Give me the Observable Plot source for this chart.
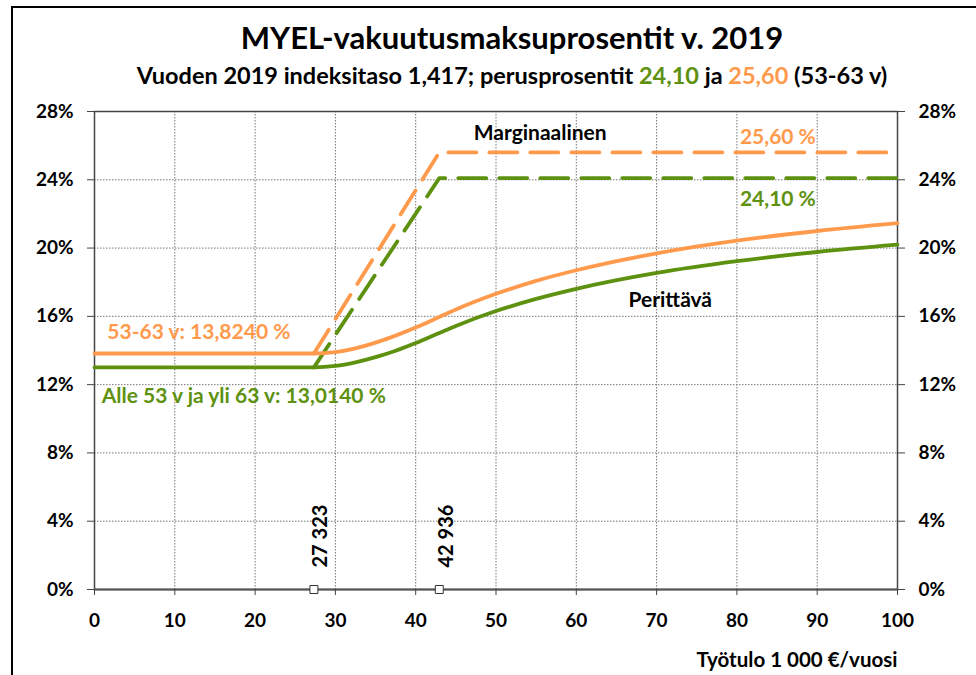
<!DOCTYPE html>
<html>
<head>
<meta charset="utf-8">
<script src="https://cdn.jsdelivr.net/npm/d3@7"></script>
<script src="https://cdn.jsdelivr.net/npm/@observablehq/plot@0.6"></script>
<style>
  html, body { margin: 0; padding: 0; background: #fff; overflow: hidden; }
  body { width: 976px; height: 675px; position: relative; font-family: Lato, "Open Sans", sans-serif; }
  #frame { position: absolute; left: 11px; top: 6px; width: 1000px; height: 700px; border-left: 2px solid #000; border-top: 2px solid #000; pointer-events: none; }
  #header { position: relative; height: 100px; }
  #title { position: absolute; left: 0; width: 1024px; top: 19px; text-align: center; font-weight: 700; font-size: 31px; line-height: 37px; color: #000; }
  #subtitle { position: absolute; left: 0; width: 1024px; top: 61px; text-align: center; font-weight: 700; font-size: 23.5px; line-height: 28px; color: #000; }
  .g { color: #5e9110; }
  .o { color: #ff9a4d; }
  #chart svg { display: block; }
</style>
</head>
<body>
<div id="frame"></div>
<div id="header">
  <div id="title">MYEL-vakuutusmaksuprosentit v. 2019</div>
  <div id="subtitle">Vuoden 2019 indeksitaso 1,417; perusprosentit <span class="g">24,10</span> ja <span class="o">25,60</span> (53-63 v)</div>
</div>
<div id="chart"></div>
<script>
// Income, 1 000 €/year
const incomeX = [0, 27.323, 30, 32.5, 35, 37.5, 40, 42.936, 45, 50, 55, 60, 70, 80, 90, 100];
// Effective (perittävä) rate, %
const orangeEffective = [13.824, 13.824, 13.91, 14.13, 14.46, 14.87, 15.34, 15.96, 16.40, 17.32, 18.08, 18.70, 19.69, 20.43, 21.00, 21.46];
const greenEffective  = [13.014, 13.014, 13.10, 13.31, 13.61, 13.99, 14.44, 15.03, 15.44, 16.31, 17.02, 17.61, 18.54, 19.23, 19.77, 20.20];
// Marginal rate, %
const marginalX = [27.323, 42.936, 100];
const orangeMarginal = [13.824, 25.60, 25.60];
const greenMarginal  = [13.014, 24.10, 24.10];
// Income limits
const limits = [27.323, 42.936];
const limitLabels = ["27 323", "42 936"];
const xTicks = [0, 10, 20, 30, 40, 50, 60, 70, 80, 90, 100];
const yTicks = [0, 4, 8, 12, 16, 20, 24, 28];

const ORANGE = "#ff9a4d";
const GREEN = "#5e9110";

const eff = (ys) => incomeX.map((x, i) => ({x, y: ys[i]}));
const marg = (ys) => marginalX.map((x, i) => ({x, y: ys[i]}));
const limitData = limits.map((x, i) => ({x, label: limitLabels[i]}));

const leftLabels = [
  {x: 1.6, y: 15.05, text: "53-63 v: 13,8240 %", color: ORANGE},
  {x: 0.9, y: 11.3, text: "Alle 53 v ja yli 63 v: 13,0140 %", color: GREEN}
];
const centerLabels = [
  {x: 55.5, y: 26.7, text: "Marginaalinen", color: "#000"},
  {x: 85.1, y: 26.5, text: "25,60 %", color: ORANGE},
  {x: 85.1, y: 22.85, text: "24,10 %", color: GREEN},
  {x: 71.7, y: 16.93, text: "Perittävä", color: "#000"}
];

const chart = Plot.plot({
  width: 976,
  height: 575,
  marginLeft: 94,
  marginRight: 79,
  marginTop: 11,
  marginBottom: 86,
  style: {fontFamily: "Lato, 'Open Sans', sans-serif", fontSize: "18px", fontWeight: 700, color: "#000", background: "#fff"},
  x: {domain: [0, 100]},
  y: {domain: [0, 28]},
  marks: [
    Plot.gridX(xTicks, {stroke: "#777", strokeOpacity: 1, strokeDasharray: "1.5,1.5", strokeWidth: 1}),
    Plot.gridY(yTicks, {stroke: "#777", strokeOpacity: 1, strokeDasharray: "1.5,1.5", strokeWidth: 1}),
    Plot.frame({stroke: "#444", strokeWidth: 1.5}),
    Plot.ruleY([0], {stroke: "#555", strokeWidth: 2}),
    Plot.axisY(yTicks, {anchor: "left", tickFormat: d => d + "%", tickSize: 7, tickPadding: 14, fontSize: 19, fontWeight: 700, stroke: "#444", label: null}),
    Plot.axisY(yTicks, {anchor: "right", tickFormat: d => d + "%", tickSize: 7, tickPadding: 14, fontSize: 19, fontWeight: 700, stroke: "#444", label: null}),
    Plot.axisX(xTicks, {anchor: "bottom", tickSize: 6, tickPadding: 18, fontSize: 19, fontWeight: 700, stroke: "#444", label: null}),
    Plot.text(["Työtulo 1 000 €/vuosi"], {frameAnchor: "bottom-right", dy: 77, dx: 0, textAnchor: "end", fontSize: 20.5, fontWeight: 700, fill: "#000"}),
    Plot.line(marg(orangeMarginal), {x: "x", y: "y", stroke: ORANGE, strokeWidth: 3.8, strokeDasharray: "28,13"}),
    Plot.line(marg(greenMarginal), {x: "x", y: "y", stroke: GREEN, strokeWidth: 3.8, strokeDasharray: "28,13"}),
    Plot.line(eff(orangeEffective), {x: "x", y: "y", stroke: ORANGE, strokeWidth: 3.8, curve: "monotone-x"}),
    Plot.line(eff(greenEffective), {x: "x", y: "y", stroke: GREEN, strokeWidth: 3.8, curve: "monotone-x"}),
    Plot.dot(limitData, {x: "x", y: 0, symbol: "square", r: 4.5, fill: "#fff", stroke: "#333", strokeWidth: 1}),
    Plot.text(limitData, {x: "x", y: 0, text: "label", rotate: -90, textAnchor: "start", dy: -22, dx: 7, fontSize: 20, fontWeight: 700, fill: "#000"}),
    Plot.text(leftLabels, {x: "x", y: "y", text: "text", fill: "color", textAnchor: "start", fontSize: 21, fontWeight: 700}),
    Plot.text(centerLabels, {x: "x", y: "y", text: "text", fill: "color", textAnchor: "middle", fontSize: 21, fontWeight: 700})
  ]
});
document.getElementById("chart").appendChild(chart);
</script>
</body>
</html>
